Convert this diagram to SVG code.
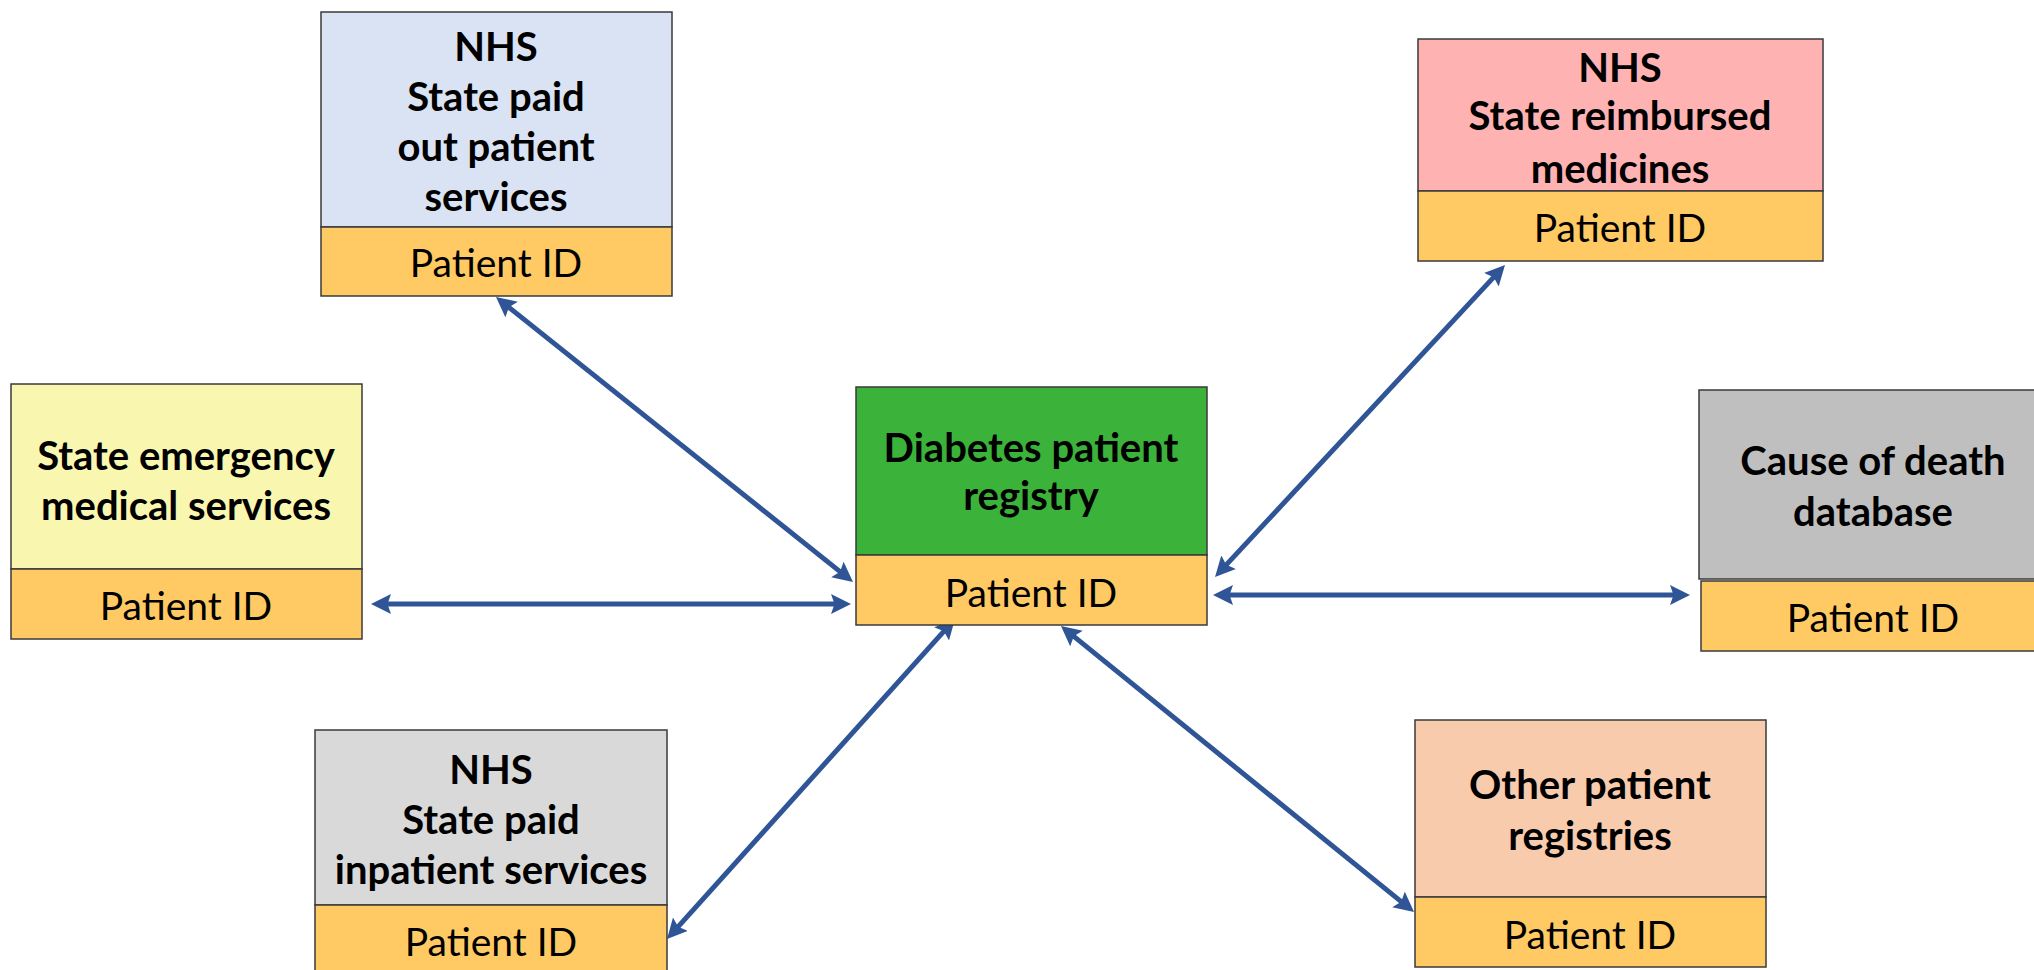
<svg xmlns="http://www.w3.org/2000/svg" width="2034" height="970" viewBox="0 0 2034 970">
<style>
.box{stroke:#3a3a3a;stroke-width:1.5}
.id{fill:#FFCA63;stroke:#3a3a3a;stroke-width:1.5}
.t{font-family:Lato,"Liberation Sans",sans-serif;font-weight:bold;font-size:40px;fill:#000;text-anchor:middle}
.p{font-family:Lato,"Liberation Sans",sans-serif;font-size:39px;fill:#000;text-anchor:middle}
.c{stroke:#2F5597;stroke-width:5;fill:none;marker-start:url(#ah);marker-end:url(#ah)}
</style>
<defs>
<marker id="ah" markerUnits="userSpaceOnUse" markerWidth="22" markerHeight="22" refX="9" refY="10" orient="auto-start-reverse">
<path d="M0,0 L20,10 L0,20 L3.5,10 Z" fill="#2F5597"/>
</marker>
</defs>
<rect width="2034" height="970" fill="#fff"/>
<g id="connectors">
<line class="c" x1="504.6" y1="303.9" x2="844.4" y2="575.1"/>
<line class="c" x1="382" y1="604" x2="840" y2="604"/>
<line class="c" x1="674.4" y1="930.8" x2="947.6" y2="627.2"/>
<line class="c" x1="1069.5" y1="632.9" x2="1405.5" y2="905.1"/>
<line class="c" x1="1222.5" y1="568.9" x2="1497.5" y2="273.1"/>
<line class="c" x1="1224" y1="595" x2="1679" y2="595"/>
</g>
<g id="outpatient">
<rect class="box" x="321" y="12" width="351" height="215" fill="#DAE3F3"/>
<rect class="id" x="321" y="227" width="351" height="69"/>
<text class="t" x="496" y="61">NHS</text>
<text class="t" x="496" y="111">State paid</text>
<text class="t" x="496" y="161">out patient</text>
<text class="t" x="496" y="211">services</text>
<text class="p" x="496" y="277">Patient ID</text>
</g>
<g id="medicines">
<rect class="box" x="1418" y="39" width="405" height="152" fill="#FFB2B2"/>
<rect class="id" x="1418" y="191" width="405" height="70"/>
<text class="t" x="1620" y="82">NHS</text>
<text class="t" x="1620" y="130">State reimbursed</text>
<text class="t" x="1620" y="183">medicines</text>
<text class="p" x="1620" y="242">Patient ID</text>
</g>
<g id="emergency">
<rect class="box" x="11" y="384" width="351" height="185" fill="#F9F6B0"/>
<rect class="id" x="11" y="569" width="351" height="70"/>
<text class="t" x="186" y="470">State emergency</text>
<text class="t" x="186" y="520">medical services</text>
<text class="p" x="186" y="620">Patient ID</text>
</g>
<g id="registry">
<rect class="box" x="856" y="387" width="351" height="168" fill="#3BB33A"/>
<rect class="id" x="856" y="555" width="351" height="70"/>
<text class="t" x="1031" y="462">Diabetes patient</text>
<text class="t" x="1031" y="510">registry</text>
<text class="p" x="1031" y="607">Patient ID</text>
</g>
<g id="death">
<rect class="box" x="1699" y="390" width="351" height="189" fill="#BFBFBF"/>
<rect class="id" x="1701" y="581" width="349" height="70"/>
<text class="t" x="1873" y="475">Cause of death</text>
<text class="t" x="1873" y="526">database</text>
<text class="p" x="1873" y="632">Patient ID</text>
</g>
<g id="inpatient">
<rect class="box" x="315" y="730" width="352" height="175" fill="#D9D9D9"/>
<rect class="id" x="315" y="905" width="352" height="72"/>
<text class="t" x="491" y="784">NHS</text>
<text class="t" x="491" y="834">State paid</text>
<text class="t" x="491" y="884">inpatient services</text>
<text class="p" x="491" y="956">Patient ID</text>
</g>
<g id="other">
<rect class="box" x="1415" y="720" width="351" height="177" fill="#F8CBAD"/>
<rect class="id" x="1415" y="897" width="351" height="70"/>
<text class="t" x="1590" y="799">Other patient</text>
<text class="t" x="1590" y="850">registries</text>
<text class="p" x="1590" y="949">Patient ID</text>
</g>
</svg>
